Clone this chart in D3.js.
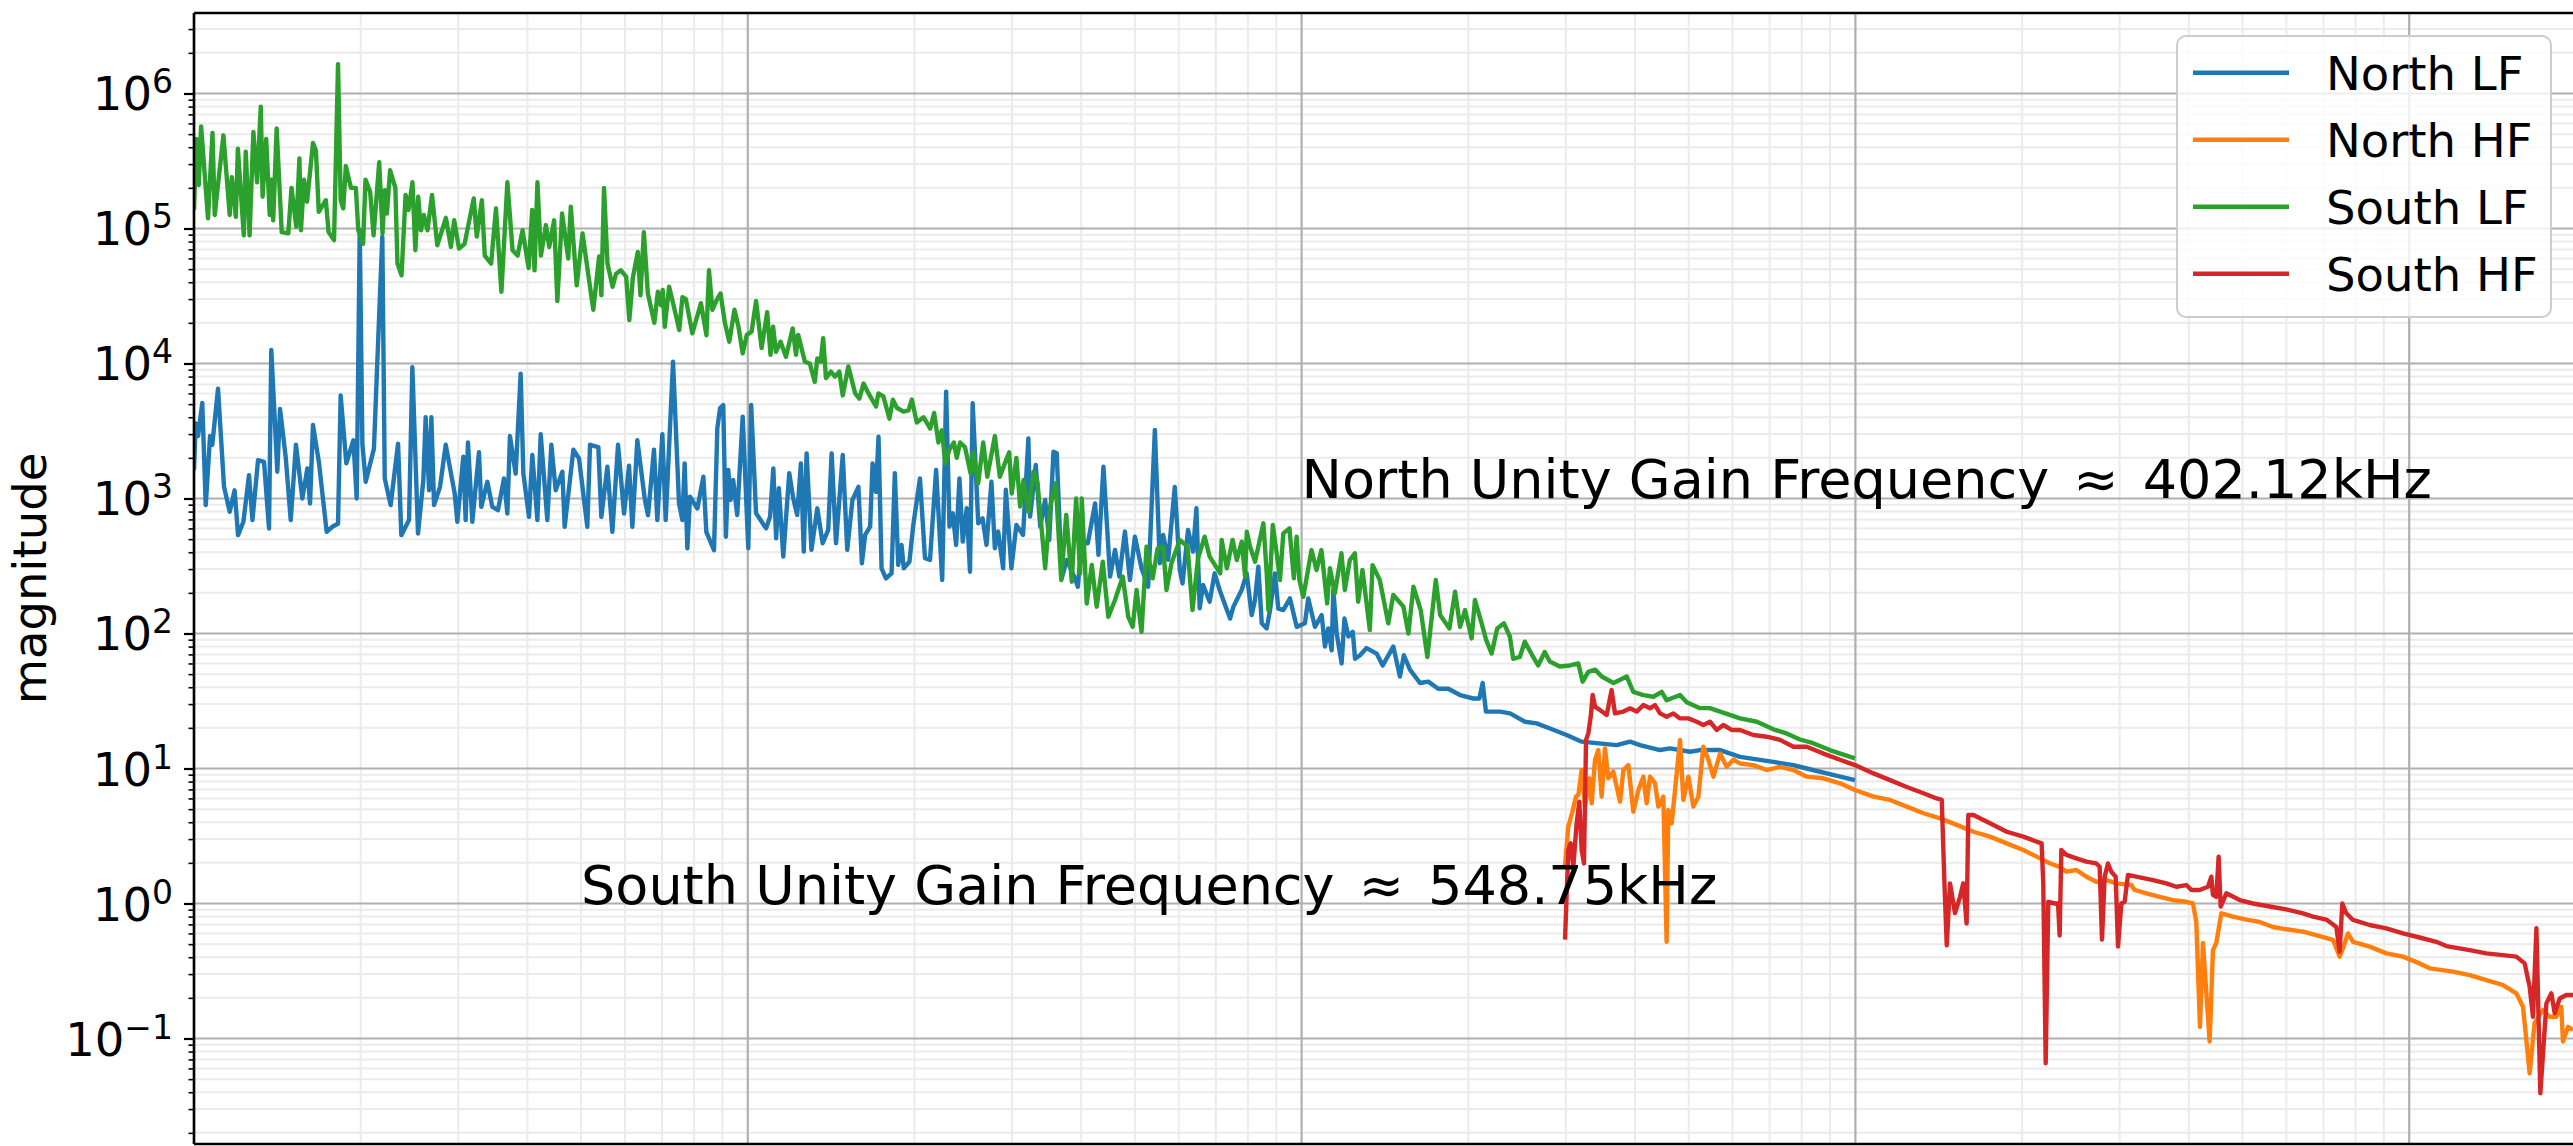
<!DOCTYPE html>
<html>
<head>
<meta charset="utf-8">
<script src="https://cdn.jsdelivr.net/npm/d3@7"></script>
<style>
  body { margin: 0; background: #fff; }
  svg { display: block; }
  text { font-family: "DejaVu Sans", sans-serif; fill: #000; }
</style>
</head>
<body>
<svg id="chart"></svg>
<script>
'use strict';

// [frequency (Hz), magnitude]
const north_lf = [
  [100,1620],[100.7,3600],[101.7,2900],[103.5,5100],[105,893],[106.9,2900],[107.9,2500],[110.5,6500],[113.3,1220],[116,797],
  [118.4,1150],[120.1,535],[122.8,672],[125.7,1490],[127.5,692],[130.5,1920],[133.8,1870],[136.6,600],[137.9,12600],[141.4,1580],
  [143,4600],[146.4,2040],[149.5,692],[152.8,2500],[156.9,1000],[160.2,1670],[162,919],[164,3500],[168.2,1820],[173.6,566],
  [177.7,617],[182,650],[184,5800],[188.4,1820],[194,2700],[196.7,1000],[199.2,97000],[201.4,2550],[204.2,1330],[211.3,2340],
  [213.7,7700],[218.8,87000],[221,1410],[226.5,893],[233.6,2550],[236.8,535],[244.5,692],[247.9,9400],[253.8,551],[259.5,1370],
  [262,4000],[265.8,1150],[268.3,4000],[271.3,893],[278.1,1220],[284.8,2500],[295.6,1090],[298.9,672],[306.4,2040],[309.4,692],
  [312.4,2600],[318.1,672],[327,2200],[330.2,867],[338.6,1330],[345.7,867],[353.9,820],[362.9,1410],[368,774],[372,2900],
  [380.9,1530],[388.9,8400],[393.3,1530],[402.6,731],[408.2,2100],[416.9,692],[422.7,3000],[434.5,692],[441.8,2500],[449.9,1150],
  [462.5,1580],[467,617],[484.2,2300],[495.7,1980],[513.1,617],[518.9,2500],[537.2,2400],[543.9,731],[557.7,1720],[569.4,566],
  [583,2500],[597.8,774],[610.3,1750],[618.8,617],[631.7,2700],[651.4,1000],[660.4,750],[677,2300],[686.5,692],[701,3000],
  [710.8,692],[732.8,10300],[751.3,919],[761.8,692],[769.1,1820],[777.8,427],[786.4,1030],[810.9,843],[831.4,1450],[841.6,566],
  [868.9,414],[881,3310],[891,4660],[903,4930],[913,521],[922,1630],[931,975],[941,1370],[957,755],[979,4040],
  [1002,428],[1014,4930],[1035,777],[1079,601],[1097,734],[1112,1670],[1125,507],[1138,1190],[1159,371],[1188,1540],
  [1208,1000],[1228,755],[1247,1820],[1262,404],[1277,2160],[1303,416],[1335,846],[1365,466],[1397,585],[1417,2160],
  [1443,466],[1484,2100],[1512,416],[1545,975],[1584,1220],[1607,331],[1629,537],[1663,619],[1680,1820],[1704,1120],
  [1722,2870],[1744,304],[1776,256],[1818,279],[1843,1540],[1869,322],[1895,453],[1913,304],[1958,340],[1990,637],
  [2046,1410],[2089,361],[2133,351],[2188,1630],[2244,249],[2281,6190],[2313,619],[2345,777],[2378,453],[2411,1410],
  [2444,479],[2485,846],[2519,287],[2547,5070],[2607,655],[2654,713],[2698,453],[2754,1330],[2793,428],[2832,569],
  [2891,304],[2924,1160],[2992,304],[3055,637],[3141,537],[3211,2790],[3234,734],[3311,1770],[3373,619],[3443,975],
  [3502,493],[3564,2220],[3613,2160],[3689,256],[3766,351],[3897,256],[3944,222],[4009,479],[4111,466],[4238,920],
  [4297,382],[4387,1720],[4510,264],[4603,416],[4688,264],[4797,569],[4898,249],[5000,521],[5140,304],[5284,222],
  [5433,3220],[5546,331],[5623,537],[5741,351],[5902,1220],[6026,296],[6095,235],[6237,585],[6368,404],[6457,846],
  [6546,154],[6637,229],[6823,172],[6966,279],[7112,210],[7272,163],[7427,129],[7531,158],[7794,210],[7959,279],
  [8126,137],[8239,177],[8354,313],[8472,119],[8649,109],[8770,149],[8951,279],[9076,153],[9268,149],[9528,182],
  [9797,112],[10140,119],[10280,182],[10570,112],[10870,137],[11020,80],[11170,109],[11330,75],[11410,210],[11570,100],
  [11810,60],[11950,129],[12150,95],[12370,103],[12490,65],[12750,69],[13100,78],[13660,71],[14010,58],[14640,80],
  [15050,48],[15300,69],[15690,54],[16360,43],[16930,44],[17650,39],[18400,39],[19320,35],[20420,33],[20940,33],
  [21230,43],[21520,26.4],[22810,26.4],[23790,25.6],[25320,22.2],[26570,21.6],[28090,19.8],[30100,17.7],[32040,15.8],[34100,15.4],
  [37060,14.9],[39180,15.8],[40830,14.9],[44380,13.7],[46270,14.1],[50270,13.3],[52410,13.7],[56960,13.7],[61880,12.2],[71100,11.2],
  [77270,10.6],[81660,10.0],[88750,9.2],[99800,8.2]
];

const north_hf = [
  [29900,1.9],[30310,3.71],[30780,4.66],[31300,6.19],[31600,6.36],[32040,9.74],[32490,5.22],[33080,8.46],[33410,5.52],[33870,11.6],
  [34340,13.7],[34820,6.19],[35300,14.1],[35800,8.46],[36550,9.48],[37580,5.68],[38110,9.74],[38900,10.6],[39720,4.79],[40560,6.93],
  [41410,8.7],[41980,5.52],[42570,8.7],[43470,7.77],[44080,5.22],[45000,6.19],[45620,0.52],[45940,4.93],[46580,3.93],[47240,6.93],
  [48230,16.3],[48900,5.85],[49930,8.7],[50980,5.22],[52050,6.19],[53140,14.5],[54270,11.6],[55410,8.7],[56960,12.9],[58560,10.3],
  [60200,11.6],[61880,10.9],[65410,10.6],[69150,9.74],[73100,10.3],[77270,9.74],[81660,8.7],[87530,8.46],[93800,7.77],[99800,6.93],
  [107800,6.19],[115500,5.85],[123800,5.22],[132700,4.66],[142200,4.27],[152400,3.82],[163300,3.4],[175000,3.13],[187600,2.79],[201000,2.49],
  [215500,2.16],[224700,1.98],[233800,1.87],[240400,1.72],[250600,1.77],[261200,1.58],[272300,1.45],[283900,1.49],[296000,1.41],[314900,1.37],
  [319300,1.26],[335300,1.19],[354400,1.12],[374600,1.06],[395900,1.03],[406900,1.0],[412600,0.73],[419000,0.122],[424200,0.51],[436200,0.095],
  [442200,0.45],[448400,0.51],[457900,0.846],[480600,0.8],[508100,0.76],[537000,0.73],[567500,0.67],[599900,0.644],[643000,0.619],[689100,0.574],
  [728600,0.537],[748900,0.404],[759300,0.466],[775300,0.6],[791600,0.52],[848400,0.479],[909300,0.427],[974500,0.404],[1044000,0.36],[1089000,0.331],
  [1200000,0.313],[1286000,0.295],[1378000,0.271],[1477000,0.249],[1561000,0.216],[1605000,0.172],[1650000,0.0552],[1684000,0.13],[1744000,0.163],[1793000,0.145],
  [1843000,0.145],[1882000,0.172],[1895000,0.095],[1935000,0.122],[1976000,0.116]
];

const south_lf = [
  [100,1.37e5],[101,4.6e5],[102,2.1e5],[103,5.7e5],[106,1.19e5],[108,5.1e5],[109,1.26e5],[113,4.9e5],[116,1.26e5],[117,2.4e5],
  [119,1.22e5],[120,3.9e5],[123,8.9e4],[124,3.7e5],[126,8.9e4],[128,5.2e5],[130,2.2e5],[132,8.0e5],[133,1.72e5],[135,4.6e5],
  [137,1.26e5],[138,2.3e5],[139,1.15e5],[141,5.5e5],[144,9.4e4],[148,9.2e4],[150,2.0e5],[153,1.03e5],[155,3.3e5],[156,9.7e4],
  [158,2.3e5],[160,1.58e5],[164,4.3e5],[166,3.8e5],[168,1.33e5],[173,1.62e5],[175,9.4e4],[179,8.2e4],[182,1.65e6],[184,1.62e5],
  [186,1.41e5],[188,2.9e5],[192,2.0e5],[196,2.0e5],[198,9.7e4],[202,7.7e4],[204,2.3e5],[208,1.87e5],[211,8.9e4],[216,3.1e5],
  [219,9.2e4],[221,1.92e5],[223,1.29e5],[226,2.7e5],[231,2.0e5],[233,5.5e4],[237,4.5e4],[241,1.77e5],[244,1.37e5],[248,2.2e5],
  [251,6.9e4],[254,1.72e5],[257,9.7e4],[260,1.26e5],[264,9.7e4],[269,1.77e5],[275,7.5e4],[285,1.2e5],[291,7.3e4],[295,1.15e5],
  [301,7.1e4],[308,7.7e4],[320,1.67e5],[324,8.7e4],[331,1.62e5],[335,6.3e4],[344,5.5e4],[351,1.41e5],[359,3.4e4],[368,2.2e5],
  [376,6.9e4],[384,6.3e4],[392,9.7e4],[402,5.1e4],[408,1.37e5],[412,4.9e4],[417,2.2e5],[423,6.3e4],[432,1.06e5],[438,7.3e4],
  [447,1.15e5],[453,2.9e4],[462,1.29e5],[474,6.0e4],[479,1.45e5],[491,3.8e4],[503,9.2e4],[515,4.6e4],[526,2.5e4],[539,6.2e4],
  [544,3.2e4],[550,2.0e5],[558,5.5e4],[570,3.7e4],[578,4.6e4],[590,4.9e4],[603,4.4e4],[611,2.1e4],[620,4.3e4],[633,6.7e4],
  [640,3.2e4],[649,9.4e4],[660,3.3e4],[678,2.0e4],[688,3.4e4],[697,2.7e4],[702,3.5e4],[708,1.87e4],[721,3.7e4],[736,2.6e4],
  [752,1.77e4],[762,3.1e4],[773,3.0e4],[794,1.67e4],[823,2.8e4],[842,1.62e4],[851,4.9e4],[863,2.5e4],[879,2.96e4],[893,3.3e4],
  [909,2.0e4],[926,1.45e4],[946,2.5e4],[962,1.87e4],[979,1.19e4],[996,1.63e4],[1016,1.72e4],[1035,2.9e4],[1059,1.3e4],[1084,2.4e4],
  [1099,1.16e4],[1111,1.87e4],[1124,1.22e4],[1146,1.45e4],[1172,1.12e4],[1205,1.82e4],[1222,1.16e4],[1233,1.63e4],[1268,1.03e4],[1294,1.0e4],
  [1321,7300],[1335,1.09e4],[1354,1.03e4],[1368,1.54e4],[1384,7800],[1413,8700],[1437,8000],[1463,8700],[1484,5800],[1519,9500],
  [1563,6000],[1590,5500],[1618,7100],[1652,6000],[1704,4800],[1721,6000],[1757,5700],[1802,3900],[1828,5400],[1858,4700],
  [1910,4400],[1951,4500],[1978,5400],[2019,3650],[2076,4000],[2135,3300],[2170,4300],[2209,2600],[2240,3200],[2274,1820],
  [2312,2300],[2356,2600],[2384,2000],[2417,2600],[2467,2400],[2525,1540],[2553,2200],[2606,1300],[2661,2600],[2707,1450],
  [2793,2900],[2852,1450],[2912,1820],[2965,2200],[2996,1090],[3055,2000],[3103,871],[3147,1370],[3213,800],[3280,1580],
  [3334,1330],[3443,304],[3515,871],[3597,1300],[3681,249],[3758,755],[3846,242],[3917,1000],[3981,279],[4009,1000],
  [4093,167],[4179,322],[4266,158],[4375,340],[4477,133],[4603,177],[4753,264],[4864,133],[4955,112],[5035,210],
  [5140,103],[5248,440],[5383,256],[5495,428],[5623,440],[5702,210],[5821,331],[6026,493],[6223,440],[6353,149],
  [6501,361],[6683,521],[6823,371],[7129,279],[7173,493],[7328,304],[7505,493],[7638,350],[7798,479],[7907,264],
  [7962,568],[8072,440],[8241,340],[8531,655],[8650,279],[8710,149],[8872,637],[9016,393],[9141,249],[9268,552],
  [9506,601],[9683,256],[9795,521],[9908,249],[10070,187],[10420,415],[10640,295],[10860,415],[11120,167],[11250,304],
  [11480,198],[11800,393],[11970,210],[12220,350],[12480,393],[12650,172],[12880,295],[13280,106],[13430,321],[13840,249],
  [14340,119],[14640,193],[15270,158],[15590,100],[15920,222],[16410,149],[16870,67],[17470,249],[17790,137],[18490,109],
  [18930,204],[19330,112],[19730,149],[20280,92],[20560,177],[21140,119],[21530,90],[22040,71],[22550,109],[23190,119],
  [23770,95],[24100,65],[24780,67],[25290,87],[26190,67],[26740,58],[27480,73],[28060,62],[29250,57],[30520,58],
  [31600,60],[32170,44],[32940,52],[33880,54],[34830,48],[36570,43],[38650,48],[39720,37],[41420,35],[43190,34],
  [44690,37],[45630,32],[48230,35],[49590,31],[52400,28],[54600,28],[57000,26.4],[61900,23.5],[66400,22.2],[71100,19.5],
  [75100,18.2],[79400,16.4],[83900,15.4],[89900,13.7],[99800,11.9]
];

const south_hf = [
  [29900,0.54],[30310,2.49],[30610,2.79],[30950,1.87],[31380,3.93],[31730,5.68],[32040,2.49],[32350,1.98],[32630,16.3],[32940,18.2],
  [33270,24.2],[33540,35.0],[33870,28.7],[34570,27.1],[35550,24.9],[36290,38.1],[36800,25.6],[38110,26.4],[39180,27.9],[40270,26.4],
  [41410,29.5],[42570,27.9],[43470,29.5],[44380,25.6],[45620,24.2],[46910,25.6],[48230,23.5],[49930,23.5],[51690,22.2],[53140,21.0],
  [54640,22.2],[56170,19.3],[57740,21.0],[59780,19.3],[61880,19.3],[65410,17.7],[69150,17.2],[73100,16.3],[77270,14.5],[81660,14.5],
  [87530,12.9],[93800,11.6],[99800,10.6],[107800,9.2],[115500,8.2],[123800,7.3],[132700,6.55],[140200,6.0],[143200,5.85],[144800,1.41],
  [146200,0.49],[148200,1.41],[151300,0.85],[154500,1.12],[156600,1.41],[158800,0.71],[159900,4.52],[163300,4.52],[175000,3.93],[187600,3.4],
  [201000,3.13],[212500,2.87],[216900,2.79],[218400,1.41],[220600,0.0655],[223000,1.03],[229300,1.0],[232200,1.0],[233800,0.58],[235400,2.49],
  [240400,2.29],[250600,2.16],[261200,2.04],[272300,1.98],[276100,1.87],[278800,0.54],[281900,1.58],[285800,1.98],[289800,1.72],[295100,1.58],
  [298000,0.48],[302100,1.0],[306300,1.03],[310600,1.63],[326100,1.56],[344700,1.49],[364300,1.41],[379700,1.33],[395900,1.37],[404200,1.26],
  [418400,1.26],[433200,1.33],[439200,1.58],[442200,1.16],[448400,1.12],[452800,2.22],[456600,0.95],[467500,1.19],[494200,1.06],[522300,1.0],
  [559800,0.95],[599900,0.905],[643000,0.846],[670300,0.8],[708600,0.76],[738600,0.67],[748900,0.44],[757200,1.0],[770000,0.846],[791600,0.755],
  [848400,0.693],[909300,0.655],[974500,0.6],[1044000,0.56],[1119000,0.52],[1167000,0.484],[1286000,0.452],[1378000,0.427],[1477000,0.415],[1561000,0.404],
  [1616000,0.36],[1650000,0.242],[1673000,0.145],[1697000,0.655],[1725000,0.0393],[1769000,0.182],[1806000,0.216],[1831000,0.154],[1870000,0.198],[1922000,0.21],
  [1976000,0.21]
];

const series_names = ['North LF', 'North HF', 'South LF', 'South HF'];
const series_colors = ['#1f77b4', '#ff7f0e', '#2ca02c', '#d62728'];
const series_data = [north_lf, north_hf, south_lf, south_hf];

const y_major = [1e-1, 1e0, 1e1, 1e2, 1e3, 1e4, 1e5, 1e6];
const y_exponents = ['\u22121', '0', '1', '2', '3', '4', '5', '6'];
const x_major = [1e2, 1e3, 1e4, 1e5, 1e6];

const notes = [
  {head: 'North Unity Gain Frequency', value: '402.12kHz', f: 1e4, m: 1e3},
  {head: 'South Unity Gain Frequency', value: '548.75kHz', f: 500, m: 1}
];

const width = 2573, height = 1146;
const margin = {top: 13, left: 194, bottom: 2};
const decade_px = 553.8;
const x_domain = [1e2, 2e6];
const y_domain = [0.01654, 3.947e6];

const x = d3.scaleLog().domain(x_domain)
    .range([margin.left, margin.left + decade_px * Math.log10(x_domain[1] / x_domain[0])]);
const y = d3.scaleLog().domain(y_domain).range([height - margin.bottom, margin.top]);

const [px0, px1] = x.range();
const [py1, py0] = y.range();

const minors = (lo, hi) => d3.range(Math.floor(Math.log10(lo)), Math.ceil(Math.log10(hi)))
    .flatMap(e => d3.range(2, 10).map(k => k * Math.pow(10, e)))
    .filter(v => v > lo && v < hi);
const x_minor = minors(x_domain[0], x_domain[1]);
const y_minor = minors(y_domain[0], y_domain[1]);

const svg = d3.select('#chart').attr('width', width).attr('height', height);

// grid, minor under major
const grid = svg.append('g').attr('class', 'grid');
grid.selectAll('.vminor').data(x_minor).enter().append('line')
    .attr('x1', d => x(d)).attr('x2', d => x(d)).attr('y1', py0).attr('y2', py1)
    .attr('stroke', '#ebebeb').attr('stroke-width', 2);
grid.selectAll('.hminor').data(y_minor).enter().append('line')
    .attr('y1', d => y(d)).attr('y2', d => y(d)).attr('x1', px0).attr('x2', px1)
    .attr('stroke', '#ebebeb').attr('stroke-width', 2);
grid.selectAll('.vmajor').data(x_major).enter().append('line')
    .attr('x1', d => x(d)).attr('x2', d => x(d)).attr('y1', py0).attr('y2', py1)
    .attr('stroke', '#b0b0b0').attr('stroke-width', 2.2);
grid.selectAll('.hmajor').data(y_major).enter().append('line')
    .attr('y1', d => y(d)).attr('y2', d => y(d)).attr('x1', px0).attr('x2', px1)
    .attr('stroke', '#b0b0b0').attr('stroke-width', 2.2);

svg.append('clipPath').attr('id', 'plot-clip').append('rect')
    .attr('x', px0).attr('y', py0).attr('width', px1 - px0).attr('height', py1 - py0);

const line = d3.line().x(d => x(d[0])).y(d => y(d[1]));
svg.append('g').attr('clip-path', 'url(#plot-clip)')
    .selectAll('path').data(series_data).enter().append('path')
    .attr('d', line)
    .attr('fill', 'none')
    .attr('stroke', (d, i) => series_colors[i])
    .attr('stroke-width', 4.4)
    .attr('stroke-linejoin', 'round');

// y axis ticks
svg.append('g').attr('transform', `translate(${px0},0)`)
    .call(d3.axisLeft(y).tickValues(y_minor).tickSize(5.5).tickFormat(''))
    .call(g => g.select('.domain').remove())
    .call(g => g.selectAll('line').attr('stroke', '#000').attr('stroke-width', 1.6));
svg.append('g').attr('transform', `translate(${px0},0)`)
    .call(d3.axisLeft(y).tickValues(y_major).tickSize(10).tickFormat(''))
    .call(g => g.select('.domain').remove())
    .call(g => g.selectAll('line').attr('stroke', '#000').attr('stroke-width', 2.2));

const labels = svg.append('g').selectAll('text').data(y_major).enter().append('text')
    .attr('x', px0 - 21)
    .attr('y', d => y(d) + 17)
    .attr('text-anchor', 'end')
    .style('font-size', '46.5px');
labels.append('tspan').text('10');
labels.append('tspan').attr('dy', -17).style('font-size', '33px').text((d, i) => y_exponents[i]);

svg.append('text')
    .attr('transform', `translate(46,${(py0 + py1) / 2}) rotate(-90)`)
    .attr('text-anchor', 'middle')
    .style('font-size', '46.5px')
    .text('magnitude');

// spines
const spine = svg.append('g').attr('stroke', '#000').attr('stroke-width', 2.6).attr('fill', 'none');
spine.append('line').attr('x1', px0).attr('x2', px0).attr('y1', py0).attr('y2', py1);
spine.append('line').attr('x1', px0).attr('x2', px1).attr('y1', py0).attr('y2', py0);
spine.append('line').attr('x1', px0).attr('x2', px1).attr('y1', py1).attr('y2', py1);
spine.append('line').attr('x1', px1).attr('x2', px1).attr('y1', py0).attr('y2', py1);

const note_text = svg.append('g').selectAll('text').data(notes).enter().append('text')
    .attr('x', d => x(d.f))
    .attr('y', d => y(d.m))
    .style('font-size', '54px');
note_text.append('tspan').text(d => d.head + ' ');
note_text.append('tspan').attr('dx', 7).text('\u2248');
note_text.append('tspan').attr('dx', 7).text(d => ' ' + d.value);

// legend
const legend = svg.append('g').attr('transform', 'translate(2177,36)');
legend.append('rect')
    .attr('width', 374).attr('height', 281).attr('rx', 9)
    .attr('fill', '#fff').attr('fill-opacity', 0.8)
    .attr('stroke', '#cccccc').attr('stroke-width', 2);
const rows = legend.selectAll('.row').data(series_names).enter().append('g')
    .attr('transform', (d, i) => `translate(0,${36.7 + i * 67})`);
rows.append('line')
    .attr('x1', 16).attr('x2', 112)
    .attr('stroke', (d, i) => series_colors[i]).attr('stroke-width', 4.4);
rows.append('text')
    .attr('x', 149).attr('y', 17)
    .style('font-size', '46.5px')
    .text(d => d);
</script>
</body>
</html>
